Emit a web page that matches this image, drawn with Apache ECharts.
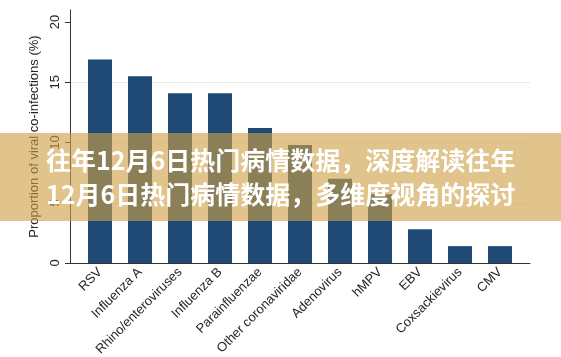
<!DOCTYPE html>
<html><head><meta charset="utf-8">
<script src="https://cdn.jsdelivr.net/npm/echarts@6/dist/echarts.min.js"></script>
<style>html,body{margin:0;padding:0;background:#fff}#c{width:561px;height:357px}</style>
</head><body><div id="c"></div>
<script>
const categories = ['RSV','Influenza A','Rhino/enteroviruses','Influenza B','Parainfluenzae','Other coronaviridae','Adenovirus','hMPV','EBV','Coxsackievirus','CMV'];
const coInfectionPct = [16.9,15.5,14.1,14.1,11.2,9.8,7.0,5.7,2.8,1.4,1.4];
const yTickValues = [0,5,10,15,20];
const yAxisTitle = 'Proportion of viral co-infections (%)';
const bannerLines = ['往年12月6日热门病情数据，深度解读往年','12月6日热门病情数据，多维度视角的探讨'];

const chart = echarts.init(document.getElementById('c'), null, {renderer:'canvas'});
const txt = '#262626';
const font = '"Liberation Sans", Arial, sans-serif';
const noLine = 'rgba(0,0,0,0)', gridCol = '#e9e9e9';
chart.setOption({
  animation:false,
  backgroundColor:'#fff',
  grid:[
    {left:80,right:41,top:10,bottom:94,containLabel:false,outerBoundsMode:'none'},
    {left:70,right:31,top:10,bottom:94,containLabel:false,outerBoundsMode:'none'}
  ],
  xAxis:[
    {gridIndex:0,type:'category',data:categories,boundaryGap:true,
     axisLine:{show:false},axisTick:{show:false},splitLine:{show:false},
     axisLabel:{interval:0,rotate:45,fontSize:13,margin:7,color:txt,fontFamily:font}},
    {gridIndex:1,type:'value',min:0,max:1,
     axisLine:{show:true,lineStyle:{color:'#333',width:1}},axisTick:{show:false},
     axisLabel:{show:false},splitLine:{show:false}}
  ],
  yAxis:[
    {gridIndex:0,type:'value',min:0,max:21,offset:10,
     name:yAxisTitle,nameLocation:'middle',nameGap:22,
     nameTextStyle:{fontSize:13,color:txt,fontFamily:font},
     axisLine:{show:true,lineStyle:{color:'#333',width:1}},
     axisTick:{show:true,length:5,customValues:yTickValues,lineStyle:{color:'#333'}},
     axisLabel:{rotate:90,customValues:yTickValues,fontSize:13,margin:8,color:txt,fontFamily:font},
     splitLine:{show:false}},
    {gridIndex:1,type:'value',min:0,max:21,interval:5,
     axisLine:{show:false},axisTick:{show:false},axisLabel:{show:false},
     splitLine:{show:true,lineStyle:{width:1,color:[noLine,gridCol,gridCol,gridCol,noLine,noLine]}}}
  ],
  series:[{type:'bar',xAxisIndex:0,yAxisIndex:0,data:coInfectionPct,barWidth:24,
    itemStyle:{color:'#1F4A75'}}],
  graphic:[
    {type:'rect',left:0,top:133,z:100,shape:{width:561,height:88},style:{fill:'rgba(205,160,70,0.62)'}},
    {type:'text',left:46,top:148,z:101,style:{text:bannerLines[0],fill:'#fff',fontSize:25,fontWeight:'bold',fontFamily:'"Noto Sans CJK SC"'}},
    {type:'text',left:46,top:182,z:101,style:{text:bannerLines[1],fill:'#fff',fontSize:25,fontWeight:'bold',fontFamily:'"Noto Sans CJK SC"'}}
  ]
});
</script></body></html>
